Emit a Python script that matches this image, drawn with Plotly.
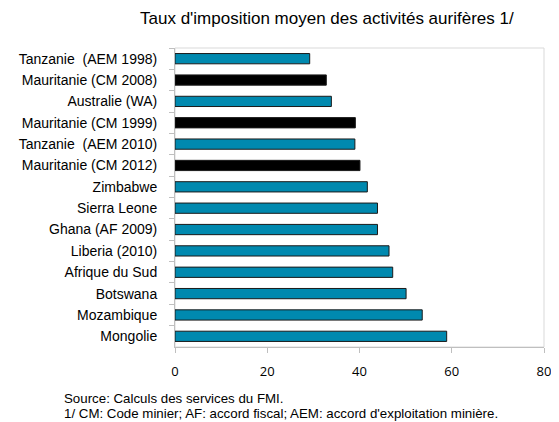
import plotly.graph_objects as go

categories = [
    "Tanzanie  (AEM 1998)",
    "Mauritanie (CM 2008)",
    "Australie (WA)",
    "Mauritanie (CM 1999)",
    "Tanzanie  (AEM 2010)",
    "Mauritanie (CM 2012)",
    "Zimbabwe",
    "Sierra Leone",
    "Ghana (AF 2009)",
    "Liberia (2010)",
    "Afrique du Sud",
    "Botswana",
    "Mozambique",
    "Mongolie",
]
values = [29.2, 32.8, 33.9, 39.1, 39.0, 40.1, 41.7, 43.9, 43.9, 46.4, 47.2, 50.1, 53.6, 58.9]
highlight = [False, True, False, True, False, True, False, False, False, False, False, False, False, False]
x_ticks = [0, 20, 40, 60, 80]

title_text = "Taux d'imposition moyen des activités aurifères 1/"
source_text = "Source: Calculs des services du FMI."
note_text = "1/ CM: Code minier; AF: accord fiscal; AEM: accord d'exploitation minière."

TEAL = "#0089AF"
colors = ["#000000" if h else TEAL for h in highlight]

fig = go.Figure(go.Bar(
    x=values, y=categories, orientation="h",
    marker=dict(color=colors, line=dict(color="#1a1a1a", width=1)),
    width=0.48,
))

PLOT_W = 369
fig.update_layout(
    width=559, height=422,
    margin=dict(l=167, r=23, t=40, b=83, autoexpand=False),
    paper_bgcolor="white", plot_bgcolor="white",
    showlegend=False,
    font=dict(family="Liberation Sans, Arial", size=14, color="#000000"),
    shapes=[dict(type="rect", xref="paper", yref="paper", x0=0, x1=1, y0=0, y1=1,
                 line=dict(color="#D9D9D9", width=1), layer="below")],
    annotations=[
        dict(text=title_text,
             xref="paper", yref="paper", x=0.412, y=1, yshift=30,
             xanchor="center", yanchor="middle", showarrow=False,
             font=dict(size=17, family="Liberation Sans, Arial")),
        dict(text=source_text,
             xref="paper", yref="paper", x=-113 / PLOT_W, y=0, yshift=-51,
             xanchor="left", yanchor="middle", align="left", showarrow=False,
             font=dict(size=13.3, family="Liberation Sans, Arial")),
        dict(text=note_text,
             xref="paper", yref="paper", x=-113 / PLOT_W, y=0, yshift=-66,
             xanchor="left", yanchor="middle", align="left", showarrow=False,
             font=dict(size=13.3, family="Liberation Sans, Arial")),
    ],
)
fig.update_xaxes(range=[0, 80], tickvals=x_ticks, showgrid=False, zeroline=False,
                 showline=True, linecolor="#BFBFBF", linewidth=1,
                 ticks="outside", ticklen=5, tickcolor="#BFBFBF", automargin=False,
                 ticklabelstandoff=7,
                 tickfont=dict(family="Open Sans, Liberation Sans", size=13, color="#000000"))
fig.update_yaxes(categoryorder="array", categoryarray=categories, autorange="reversed",
                 showgrid=False, showline=True, linecolor="#BFBFBF", linewidth=1,
                 ticks="outside", ticklen=5, tickcolor="#BFBFBF", tickson="boundaries",
                 ticklabelstandoff=14, automargin=False,
                 tickfont=dict(family="Liberation Sans, Arial", size=14, color="#000000"))

fig.write_html("out.html")
